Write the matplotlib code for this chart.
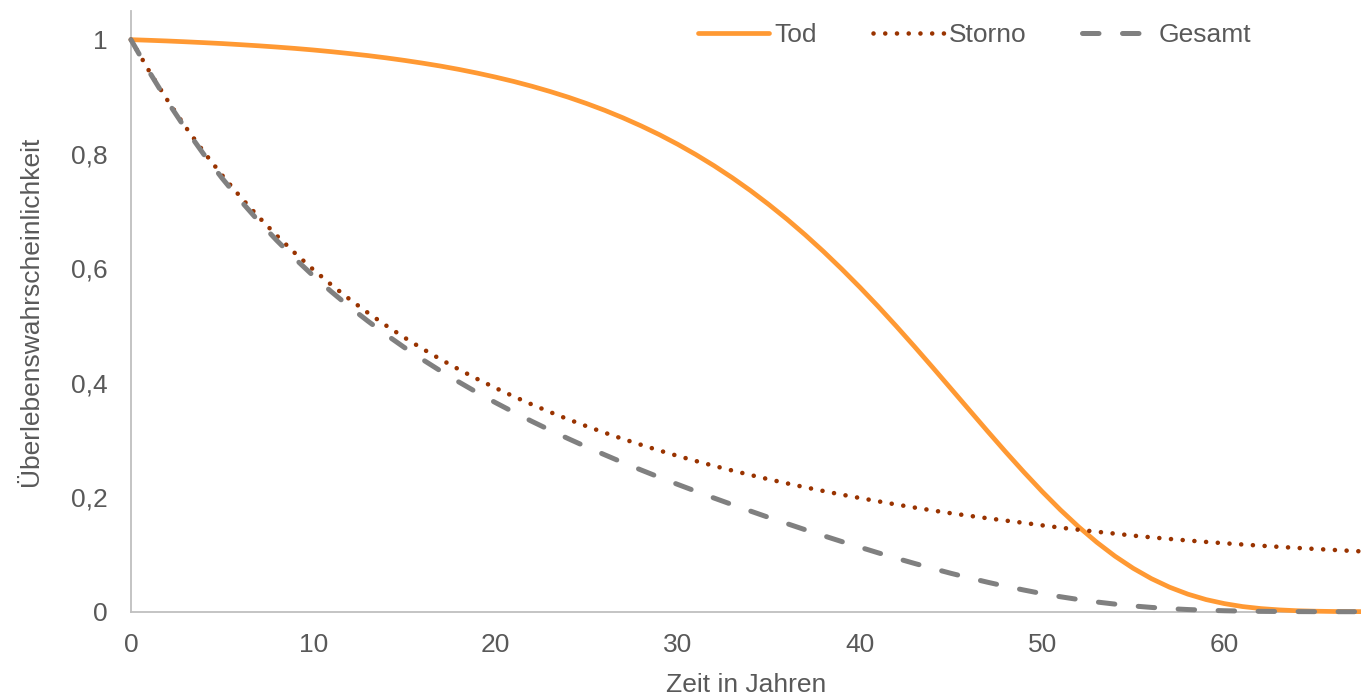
import matplotlib
matplotlib.use("Agg")
import matplotlib.pyplot as plt

plt.rcParams["font.family"] = ["Liberation Sans", "DejaVu Sans"]

# Zeitpunkte in Jahren
jahre = list(range(0, 69))

# Überlebenswahrscheinlichkeiten je Ausscheideursache
tod = [1.0, 0.9989, 0.9977, 0.9963, 0.9948, 0.9932, 0.9913, 0.9893, 0.9871, 0.9847,
       0.9820, 0.9790, 0.9757, 0.9722, 0.9682, 0.9638, 0.9590, 0.9538, 0.9480, 0.9416,
       0.9346, 0.9270, 0.9186, 0.9094, 0.8994, 0.8884, 0.8765, 0.8634, 0.8492, 0.8339,
       0.8172, 0.7991, 0.7796, 0.7586, 0.7361, 0.7119, 0.6862, 0.6588, 0.6298, 0.5992,
       0.5672, 0.5338, 0.4991, 0.4634, 0.4269, 0.3899, 0.3528, 0.3158, 0.2794, 0.2441,
       0.2102, 0.1782, 0.1485, 0.1214, 0.0971, 0.0759, 0.0578, 0.0428, 0.0307, 0.0212,
       0.0142, 0.0090, 0.0055, 0.0032, 0.0017, 0.0009, 0.0004, 0.0002, 0.0001]
storno = [1.0, 0.9451, 0.8943, 0.8473, 0.8037, 0.7632, 0.7255, 0.6904, 0.6576, 0.6269,
          0.5982, 0.5714, 0.5462, 0.5226, 0.5003, 0.4794, 0.4597, 0.4411, 0.4235, 0.4069,
          0.3912, 0.3764, 0.3623, 0.3490, 0.3363, 0.3243, 0.3129, 0.3020, 0.2917, 0.2818,
          0.2724, 0.2635, 0.2549, 0.2468, 0.2390, 0.2315, 0.2244, 0.2175, 0.2110, 0.2047,
          0.1988, 0.1930, 0.1874, 0.1821, 0.1770, 0.1721, 0.1677, 0.1634, 0.1593, 0.1553,
          0.1510, 0.1470, 0.1433, 0.1398, 0.1365, 0.1330, 0.1300, 0.1272, 0.1245, 0.1220,
          0.1197, 0.1175, 0.1154, 0.1134, 0.1115, 0.1097, 0.1080, 0.1063, 0.1047]
gesamt = [1.0, 0.9441, 0.8922, 0.8442, 0.7995, 0.7580, 0.7192, 0.6830, 0.6491, 0.6173,
          0.5874, 0.5594, 0.5329, 0.5081, 0.4844, 0.4620, 0.4409, 0.4207, 0.4015, 0.3831,
          0.3656, 0.3489, 0.3328, 0.3174, 0.3025, 0.2881, 0.2743, 0.2607, 0.2477, 0.2350,
          0.2226, 0.2106, 0.1987, 0.1872, 0.1759, 0.1648, 0.1540, 0.1433, 0.1329, 0.1227,
          0.1128, 0.1030, 0.0935, 0.0844, 0.0756, 0.0671, 0.0592, 0.0516, 0.0445, 0.0379,
          0.0317, 0.0262, 0.0213, 0.0170, 0.0133, 0.0101, 0.0075, 0.0054, 0.0038, 0.0026,
          0.0017, 0.0011, 0.0006, 0.0004, 0.0002, 0.0001, 0.00004, 0.00002, 0.00001]

x_ticks = [0, 10, 20, 30, 40, 50, 60]
y_ticks = [0, 0.2, 0.4, 0.6, 0.8, 1.0]
y_tick_labels = ["0", "0,2", "0,4", "0,6", "0,8", "1"]

text_color = "#595959"
axis_color = "#BFBFBF"
fs = 19

fig = plt.figure(figsize=(13.61, 6.96), dpi=100)
ax = fig.add_axes([0.0962, 0.1211, 0.9038, 0.863])

ax.plot(jahre, tod, color="#FF9933", lw=3.4, solid_capstyle="round",
        solid_joinstyle="round", label="Tod", clip_on=False, zorder=3)
ax.plot(jahre, storno, color="#993300", lw=3.3, linestyle=(0, (0.01, 2.55)),
        dash_capstyle="round", label="Storno", clip_on=False, zorder=4)
ax.plot(jahre, gesamt, color="#808080", lw=3.6, linestyle=(0, (3.3, 4.7)),
        dash_capstyle="round", label="Gesamt", clip_on=False, zorder=5)

ax.set_xlim(0, 67.5)
ax.set_ylim(0, 1.05)
ax.set_xticks(x_ticks)
ax.set_yticks(y_ticks)
ax.set_yticklabels(y_tick_labels)

for side in ("top", "right"):
    ax.spines[side].set_visible(False)
for side in ("left", "bottom"):
    ax.spines[side].set_color(axis_color)
    ax.spines[side].set_linewidth(1.3)

ax.tick_params(axis="both", length=0, labelsize=fs, colors=text_color)
ax.tick_params(axis="y", pad=17)
ax.tick_params(axis="x", pad=15)

ax.set_xlabel("Zeit in Jahren", fontsize=fs, color=text_color, labelpad=12)
ax.set_ylabel("Überlebenswahrscheinlichkeit", fontsize=fs, color=text_color,
              labelpad=20)

leg = ax.legend(ncol=3, loc="center", bbox_to_anchor=(0.686, 0.960),
                frameon=False, fontsize=fs, handlelength=2.7,
                handletextpad=0.2, columnspacing=2.1, borderaxespad=0)
for t in leg.get_texts():
    t.set_color(text_color)

fig.savefig("out.png", dpi=100, facecolor="white")
